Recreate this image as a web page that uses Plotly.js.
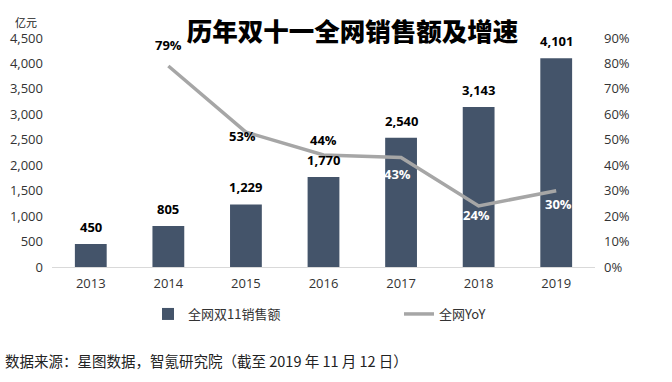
<!DOCTYPE html>
<html>
<head>
<meta charset="utf-8">
<script src="https://cdn.plot.ly/plotly-3.0.1.min.js"></script>
<style>html,body{margin:0;padding:0;background:#fff;}#chart{width:672px;height:382px;}</style>
</head>
<body>
<div id="chart"></div>
<script>
// ---- data ----
var years = ['2013', '2014', '2015', '2016', '2017', '2018', '2019'];
var sales = [450, 805, 1229, 1770, 2540, 3143, 4101];           // 亿元
var yoy = [null, 0.79, 0.53, 0.44, 0.43, 0.24, 0.30];           // 全网YoY
var salesName = '全网双11销售额';
var yoyName = '全网YoY';
var titleText = '历年双十一全网销售额及增速';
var unitText = '亿元';
var sourceText = '数据来源：星图数据，智氪研究院（截至 2019 年 11 月 12 日）';

// ---- styling (not data) ----
var yoyLabelXShift = [0, 0, -3, 0, -4, -2, 2];
var yoyLabelYShift = [0, 21, -4, 15, -16, -9, -13];
var yoyLabelColor = ['#000', '#000', '#000', '#000', '#fff', '#fff', '#fff'];

var numFont = 'Open Sans, Noto Sans CJK SC, sans-serif';
var cjkFont = 'Noto Sans CJK SC, sans-serif';

var W = 672, H = 382, L = 52, R = 77, T = 38, B = 115;
var pw = W - L - R, ph = H - T - B;
function px2paperX(px) { return (px - L) / pw; }
function px2paperY(py) { return (H - B - py) / ph; }

var traces = [
  {
    type: 'bar', x: years, y: sales, name: salesName,
    marker: { color: '#44546a' }, yaxis: 'y', hoverinfo: 'none'
  },
  {
    type: 'scatter', mode: 'lines', x: years, y: yoy, name: yoyName,
    line: { color: '#a6a6a6', width: 3.5 }, yaxis: 'y2', hoverinfo: 'none',
    connectgaps: false
  }
];

var annotations = [];
years.forEach(function (yr, i) {
  // category axis: annotation x given as the category index
  annotations.push({
    x: i, y: sales[i], xref: 'x', yref: 'y',
    text: sales[i].toLocaleString('en-US'),
    showarrow: false, yanchor: 'bottom', yshift: 6,
    font: { family: numFont, size: 13, color: '#000', weight: 'bold' }
  });
  if (yoy[i] !== null) {
    annotations.push({
      x: i, y: yoy[i], xref: 'x', yref: 'y2',
      text: Math.round(yoy[i] * 100) + '%',
      showarrow: false, yanchor: 'middle', xanchor: 'center',
      xshift: yoyLabelXShift[i], yshift: yoyLabelYShift[i],
      font: { family: numFont, size: 13, color: yoyLabelColor[i], weight: 'bold' }
    });
  }
});
annotations.push({
  xref: 'paper', yref: 'paper', x: px2paperX(26), y: px2paperY(22),
  xanchor: 'center', yanchor: 'middle', showarrow: false, text: unitText,
  font: { family: cjkFont, size: 11, color: '#222' }
});
annotations.push({
  xref: 'paper', yref: 'paper', x: px2paperX(3), y: px2paperY(360),
  xanchor: 'left', yanchor: 'middle', showarrow: false, text: sourceText,
  font: { family: cjkFont, size: 14.5, color: '#222' }
});

var layout = {
  width: W, height: H,
  margin: { l: L, r: R, t: T, b: B, pad: 0 },
  paper_bgcolor: '#fff', plot_bgcolor: '#fff',
  showlegend: true,
  title: {
    text: titleText, xref: 'container', yref: 'container',
    x: 352.5 / W, y: 1 - 32 / H, xanchor: 'center', yanchor: 'middle',
    font: { family: cjkFont, size: 25.5, color: '#000', weight: 900 }
  },
  bargap: 0.59,
  xaxis: {
    type: 'category', range: [-0.5, years.length - 0.5], autorange: false,
    showline: true, linecolor: '#d9d9d9', linewidth: 1,
    ticks: '', showgrid: false, zeroline: false,
    tickfont: { family: numFont, size: 13, color: '#333' },
    ticklabelstandoff: 4
  },
  yaxis: {
    range: [0, 4500], dtick: 500, tickformat: ',d', showgrid: false, zeroline: false,
    showline: false, ticks: '', tickfont: { family: numFont, size: 13, color: '#333' },
    ticklabelstandoff: 8
  },
  yaxis2: {
    overlaying: 'y', side: 'right', range: [0, 0.9], dtick: 0.1, tickformat: '.0%',
    showgrid: false, zeroline: false, showline: false, ticks: '',
    tickfont: { family: numFont, size: 13, color: '#333' },
    ticklabelstandoff: 8
  },
  legend: {
    orientation: 'h', xref: 'container', yref: 'container',
    x: 148 / W, y: 1 - 314 / H, xanchor: 'left', yanchor: 'middle',
    entrywidth: 206, entrywidthmode: 'pixels',
    font: { family: cjkFont, size: 13, color: '#333' },
    bgcolor: 'rgba(0,0,0,0)', borderwidth: 0, traceorder: 'normal'
  },
  annotations: annotations,
  hovermode: false
};

Plotly.newPlot('chart', traces, layout, { staticPlot: true, displayModeBar: false });
</script>
</body>
</html>
